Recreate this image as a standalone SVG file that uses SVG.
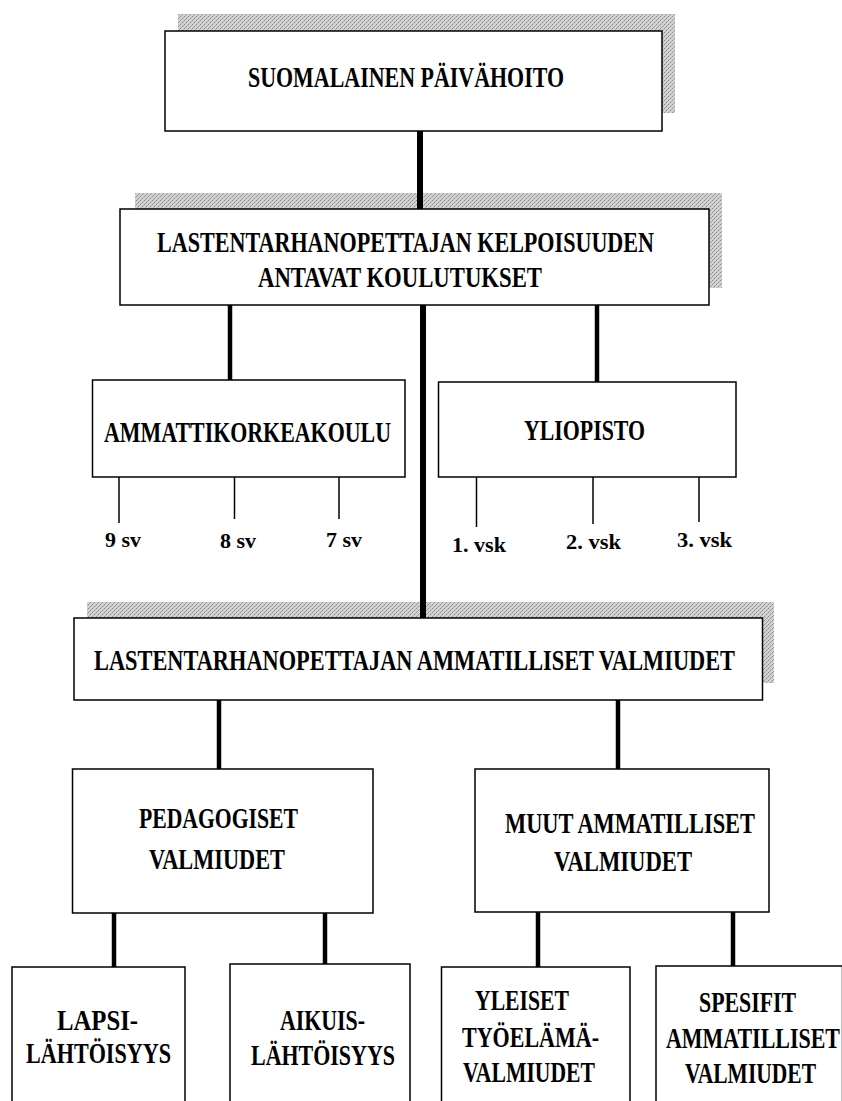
<svg xmlns="http://www.w3.org/2000/svg" width="842" height="1101" viewBox="0 0 842 1101">
<defs>
<pattern id="dither" width="4" height="4" patternUnits="userSpaceOnUse">
<rect width="4" height="4" fill="#d2d2d2"/>
<rect x="0" y="0" width="1" height="1" fill="#888888"/>
<rect x="2" y="2" width="1" height="1" fill="#888888"/>
<rect x="1" y="3" width="1" height="1" fill="#aaaaaa"/>
<rect x="3" y="1" width="1" height="1" fill="#aaaaaa"/>
</pattern>
<style>
.box{fill:#fff;stroke:#000;stroke-width:1.5}
.shadow{fill:url(#dither);stroke:none}
.t{font-family:"Liberation Serif","Times New Roman",serif;font-weight:bold;font-size:28.5px;fill:#000}
.s{font-family:"Liberation Serif","Times New Roman",serif;font-weight:bold;font-size:21px;fill:#000}
.thick{stroke:#000;stroke-width:6;fill:none}
.mid{stroke:#000;stroke-width:4.5;fill:none}
.thin{stroke:#000;stroke-width:1.5;fill:none}
</style>
</defs>
<rect width="842" height="1101" fill="#fff"/>

<g id="shadows">
<rect class="shadow" x="178" y="14" width="497" height="99"/>
<rect class="shadow" x="135" y="193" width="587" height="95"/>
<rect class="shadow" x="87" y="602" width="687" height="81"/>
</g>

<g id="connectors">
<line class="thick" x1="420" y1="131" x2="420" y2="209"/>
<line class="thick" x1="423" y1="305" x2="423" y2="618"/>
<line class="mid" x1="230" y1="305" x2="230" y2="380"/>
<line class="mid" x1="597" y1="305" x2="597" y2="382"/>
<line class="thin" x1="119" y1="477" x2="119" y2="523"/>
<line class="thin" x1="234.5" y1="477" x2="234.5" y2="519"/>
<line class="thin" x1="339" y1="477" x2="339" y2="519"/>
<line class="thin" x1="476.5" y1="477" x2="476.5" y2="527"/>
<line class="thin" x1="593" y1="477" x2="593" y2="524"/>
<line class="thin" x1="699" y1="477" x2="699" y2="522"/>
<line class="mid" x1="219" y1="700" x2="219" y2="769"/>
<line class="mid" x1="618" y1="700" x2="618" y2="769"/>
<line class="mid" x1="114" y1="913" x2="114" y2="967"/>
<line class="mid" x1="325" y1="913" x2="325" y2="965"/>
<line class="mid" x1="538" y1="912" x2="538" y2="967"/>
<line class="mid" x1="733" y1="908" x2="733" y2="966"/>
</g>

<g id="n-suomalainen">
<rect class="box" x="165" y="31" width="497" height="100"/>
<text class="t" x="248" y="87" textLength="316" lengthAdjust="spacingAndGlyphs">SUOMALAINEN PÄIVÄHOITO</text>
</g>

<g id="n-kelpoisuus">
<rect class="box" x="120" y="209" width="589" height="96"/>
<text class="t" x="157" y="252" textLength="497" lengthAdjust="spacingAndGlyphs">LASTENTARHANOPETTAJAN KELPOISUUDEN</text>
<text class="t" x="258" y="287" textLength="284" lengthAdjust="spacingAndGlyphs">ANTAVAT KOULUTUKSET</text>
</g>

<g id="n-amk">
<rect class="box" x="92.5" y="380" width="312.5" height="97"/>
<text class="t" x="104" y="442" textLength="287" lengthAdjust="spacingAndGlyphs">AMMATTIKORKEAKOULU</text>
</g>

<g id="n-yliopisto">
<rect class="box" x="438.5" y="382" width="297.5" height="95"/>
<text class="t" x="524" y="440" textLength="121" lengthAdjust="spacingAndGlyphs">YLIOPISTO</text>
</g>

<g id="n-9sv"><text class="s" x="105" y="547" textLength="36" lengthAdjust="spacingAndGlyphs">9 sv</text></g>
<g id="n-8sv"><text class="s" x="220" y="548" textLength="36" lengthAdjust="spacingAndGlyphs">8 sv</text></g>
<g id="n-7sv"><text class="s" x="326" y="547" textLength="36" lengthAdjust="spacingAndGlyphs">7 sv</text></g>
<g id="n-1vsk"><text class="s" x="452" y="552" textLength="54" lengthAdjust="spacingAndGlyphs">1. vsk</text></g>
<g id="n-2vsk"><text class="s" x="566" y="549" textLength="55" lengthAdjust="spacingAndGlyphs">2. vsk</text></g>
<g id="n-3vsk"><text class="s" x="677" y="547" textLength="55" lengthAdjust="spacingAndGlyphs">3. vsk</text></g>

<g id="n-valmiudet">
<rect class="box" x="74" y="618" width="688.5" height="82"/>
<text class="t" transform="translate(94,670) scale(0.75,1)" x="0" y="0" textLength="854.7" lengthAdjust="spacingAndGlyphs">LASTENTARHANOPETTAJAN AMMATILLISET VALMIUDET</text>
</g>

<g id="n-pedagogiset">
<rect class="box" x="72.5" y="769" width="300.5" height="144"/>
<text class="t" x="139" y="828" textLength="159" lengthAdjust="spacingAndGlyphs">PEDAGOGISET</text>
<text class="t" x="149" y="869" textLength="136" lengthAdjust="spacingAndGlyphs">VALMIUDET</text>
</g>

<g id="n-muut">
<rect class="box" x="475" y="769" width="294" height="143"/>
<text class="t" x="505" y="833" textLength="250" lengthAdjust="spacingAndGlyphs">MUUT AMMATILLISET</text>
<text class="t" x="554" y="871" textLength="138" lengthAdjust="spacingAndGlyphs">VALMIUDET</text>
</g>

<g id="n-lapsi">
<rect class="box" x="12" y="967" width="173" height="150"/>
<text class="t" x="57" y="1030" textLength="81" lengthAdjust="spacingAndGlyphs">LAPSI-</text>
<text class="t" x="26" y="1063" textLength="145" lengthAdjust="spacingAndGlyphs">LÄHTÖISYYS</text>
</g>

<g id="n-aikuis">
<rect class="box" x="230" y="964" width="180" height="150"/>
<text class="t" x="280" y="1030" textLength="85" lengthAdjust="spacingAndGlyphs">AIKUIS-</text>
<text class="t" x="251" y="1065" textLength="144" lengthAdjust="spacingAndGlyphs">LÄHTÖISYYS</text>
</g>

<g id="n-yleiset">
<rect class="box" x="441.5" y="967" width="188.5" height="150"/>
<text class="t" x="475" y="1010" textLength="94" lengthAdjust="spacingAndGlyphs">YLEISET</text>
<text class="t" x="462" y="1047" textLength="137" lengthAdjust="spacingAndGlyphs">TYÖELÄMÄ-</text>
<text class="t" x="463" y="1082" textLength="132" lengthAdjust="spacingAndGlyphs">VALMIUDET</text>
</g>

<g id="n-spesifit">
<rect class="box" x="656" y="966" width="186.5" height="150"/>
<text class="t" x="699" y="1012" textLength="97" lengthAdjust="spacingAndGlyphs">SPESIFIT</text>
<text class="t" transform="translate(666,1048) scale(0.76,1)" x="0" y="0" textLength="228.9" lengthAdjust="spacingAndGlyphs">AMMATILLISET</text>
<text class="t" transform="translate(685,1083) scale(0.74,1)" x="0" y="0" textLength="177" lengthAdjust="spacingAndGlyphs">VALMIUDET</text>
</g>
</svg>
